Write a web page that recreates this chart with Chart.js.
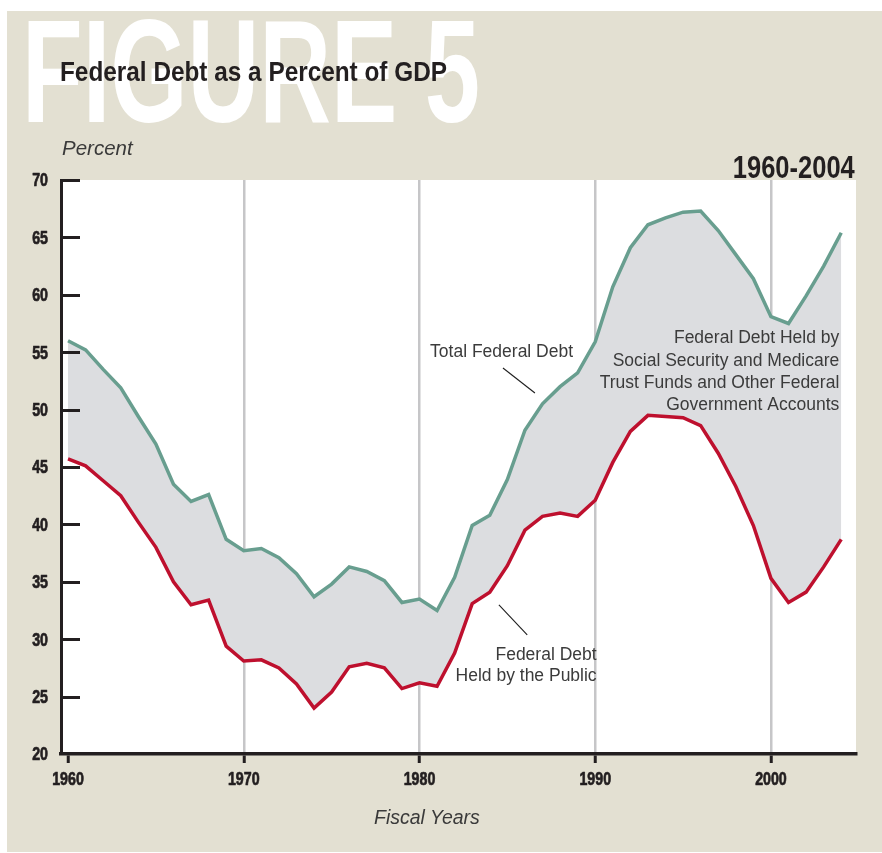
<!DOCTYPE html>
<html>
<head>
<meta charset="utf-8">
<script src="https://cdn.jsdelivr.net/npm/chart.js@4.4.1/dist/chart.umd.min.js"></script>
<style>
  html, body { margin: 0; padding: 0; background: #ffffff; }
  #wrap { position: relative; width: 882px; height: 853px; overflow: hidden; }
  #chart { position: absolute; left: 0; top: 0; }
  .t { position: absolute; white-space: nowrap; line-height: 1; }
  .cond { font-family: 'Liberation Sans', Arial, sans-serif; font-weight: bold; }
  .light { font-family: 'Liberation Sans', Arial, sans-serif; font-style: italic; color: #3a3a3a; }
  #fig { left: 22px; top: -0.6px; font-size: 146px; color: #ffffff; transform-origin: left top; }
  #title { left: 60px; top: 58.4px; font-size: 27.9px; color: #231f20; transform-origin: left top; }
  #span { right: 27px; top: 153px; font-size: 30.7px; color: #231f20; transform-origin: right top; }
  #unit { left: 62px; top: 137.6px; font-size: 20.5px; }
  #xname { left: 374px; top: 807.5px; font-size: 19.5px; }
</style>
</head>
<body>
<div id="wrap">
  <canvas id="chart" width="882" height="853"></canvas>
  <div id="fig" class="t cond">FIGURE 5</div>
  <div id="title" class="t cond">Federal Debt as a Percent of GDP</div>
  <div id="span" class="t cond">1960-2004</div>
  <div id="unit" class="t light">Percent</div>
  <div id="xname" class="t light">Fiscal Years</div>
</div>
<script>
// Fiscal years and debt ratios (percent of GDP)
const years = [
  1960, 1961, 1962, 1963, 1964, 1965, 1966, 1967, 1968, 1969,
  1970, 1971, 1972, 1973, 1974, 1975, 1976, 1977, 1978, 1979,
  1980, 1981, 1982, 1983, 1984, 1985, 1986, 1987, 1988, 1989,
  1990, 1991, 1992, 1993, 1994, 1995, 1996, 1997, 1998, 1999,
  2000, 2001, 2002, 2003, 2004
];
const totalFederalDebt = [
  56.0, 55.2, 53.5, 51.9, 49.4, 47.0, 43.5, 42.0, 42.6, 38.7,
  37.7, 37.9, 37.1, 35.7, 33.7, 34.8, 36.3, 35.9, 35.1, 33.2,
  33.5, 32.5, 35.4, 39.9, 40.8, 43.9, 48.2, 50.5, 52.0, 53.2,
  55.9, 60.7, 64.1, 66.1, 66.7, 67.2, 67.3, 65.6, 63.5, 61.4,
  58.1, 57.5, 59.9, 62.5, 65.4
];
const heldByPublic = [
  45.7, 45.1, 43.8, 42.5, 40.2, 38.0, 35.0, 33.0, 33.4, 29.4,
  28.1, 28.2, 27.5, 26.1, 24.0, 25.4, 27.6, 27.9, 27.5, 25.7,
  26.2, 25.9, 28.8, 33.1, 34.1, 36.4, 39.5, 40.7, 41.0, 40.7,
  42.1, 45.4, 48.1, 49.5, 49.4, 49.3, 48.6, 46.2, 43.3, 39.9,
  35.3, 33.2, 34.1, 36.3, 38.7
];
const yearTicks = [1960, 1970, 1980, 1990, 2000];
const percentMin = 20;
const percentMax = 70;
const percentStep = 5;
const yearMin = 1959.6;
const yearMax = 2004.84;

const DARK = '#231f20';
const GREEN = '#689e8f';
const RED = '#be102e';
const BAND = '#dcdde0';
const GRID = '#c6c6c8';
const BEIGE = '#e3e0d2';
const NOTE_FONT = '17.5px "Liberation Sans", Arial, sans-serif';
const NOTE_COLOR = '#3b3b3b';
const LABEL_FONT = 'bold 18px "Liberation Sans", Arial, sans-serif';
const LABEL_SQUEEZE = 0.79;
const LABEL_CAP = 0.716 * 18;

// Text callouts, anchored in data units (year, percent)
const callouts = [
  { lines: ['Total Federal Debt'], year: 1988.74, value: 54.56, gap: 0 },
  { lines: ['Federal Debt Held by', 'Social Security and Medicare', 'Trust Funds and Other Federal', 'Government Accounts'], year: 2003.89, value: 55.78, gap: 22.3 },
  { lines: ['Federal Debt', 'Held by the Public'], year: 1990.08, value: 28.19, gap: 21 }
];
const leaders = [
  { from: [1984.75, 53.62], to: [1986.57, 51.45] },
  { from: [1984.52, 32.98], to: [1986.13, 30.37] }
];

const points = (vals) => years.map((yr, i) => ({ x: yr, y: vals[i] }));

const panelPlugin = {
  id: 'panel',
  beforeDraw(chart) {
    const { ctx, chartArea: a, width, height } = chart;
    ctx.save();
    ctx.fillStyle = '#ffffff';
    ctx.fillRect(0, 0, width, height);
    ctx.fillStyle = BEIGE;
    ctx.fillRect(7, 11, width - 7, height - 12);
    ctx.fillStyle = '#ffffff';
    ctx.fillRect(a.left, a.top, a.right - a.left, a.bottom - a.top);
    ctx.restore();
  }
};

// Condensed heavy tick numbers plus the short inside ticks of the value axis
function squeezedText(ctx, text, x, y, align) {
  ctx.save();
  ctx.translate(x, y);
  ctx.scale(LABEL_SQUEEZE, 1);
  ctx.textAlign = align;
  ctx.textBaseline = 'alphabetic';
  ctx.fillText(text, 0, 0);
  ctx.strokeText(text, 0, 0);
  ctx.restore();
}

const axisLabelPlugin = {
  id: 'axisLabels',
  afterDraw(chart) {
    const { ctx, chartArea: a } = chart;
    const xs = chart.scales.x, ys = chart.scales.y;
    ctx.save();
    ctx.strokeStyle = DARK;
    ctx.lineWidth = 3;
    ys.ticks.forEach(t => {
      if (t.value === percentMin) return;
      const py = Math.round(ys.getPixelForValue(t.value)) + 0.5;
      ctx.beginPath();
      ctx.moveTo(a.left, py);
      ctx.lineTo(a.left + 19, py);
      ctx.stroke();
    });
    ctx.font = LABEL_FONT;
    ctx.fillStyle = DARK;
    ctx.lineWidth = 0.7;
    ctx.lineJoin = 'round';
    ys.ticks.forEach(t => {
      const py = ys.getPixelForValue(t.value);
      squeezedText(ctx, String(t.value), a.left - 13, py + LABEL_CAP / 2, 'right');
    });
    xs.ticks.forEach(t => {
      const px = xs.getPixelForValue(t.value);
      squeezedText(ctx, String(t.value), px, a.bottom + 31, 'center');
    });
    ctx.restore();
  }
};

const calloutPlugin = {
  id: 'callouts',
  afterDatasetsDraw(chart) {
    const { ctx } = chart;
    const xs = chart.scales.x, ys = chart.scales.y;
    ctx.save();
    ctx.font = NOTE_FONT;
    ctx.fillStyle = NOTE_COLOR;
    ctx.textAlign = 'right';
    ctx.textBaseline = 'alphabetic';
    callouts.forEach(c => {
      const px = xs.getPixelForValue(c.year);
      const py = ys.getPixelForValue(c.value);
      c.lines.forEach((ln, i) => ctx.fillText(ln, px, py + i * c.gap));
    });
    ctx.strokeStyle = '#1e1e1e';
    ctx.lineWidth = 1.1;
    leaders.forEach(l => {
      ctx.beginPath();
      ctx.moveTo(xs.getPixelForValue(l.from[0]), ys.getPixelForValue(l.from[1]));
      ctx.lineTo(xs.getPixelForValue(l.to[0]), ys.getPixelForValue(l.to[1]));
      ctx.stroke();
    });
    ctx.restore();
  }
};

new Chart(document.getElementById('chart'), {
  type: 'line',
  data: {
    datasets: [
      {
        label: 'Federal Debt Held by the Public',
        data: points(heldByPublic),
        borderColor: RED,
        borderWidth: 3.5,
        pointRadius: 0,
        tension: 0,
        fill: false
      },
      {
        label: 'Total Federal Debt',
        data: points(totalFederalDebt),
        borderColor: GREEN,
        borderWidth: 3.5,
        pointRadius: 0,
        tension: 0,
        fill: '-1',
        backgroundColor: BAND
      }
    ]
  },
  options: {
    responsive: false,
    animation: false,
    events: [],
    layout: { padding: { top: 180, right: 26, left: 0, bottom: 0 } },
    plugins: { legend: { display: false }, tooltip: { enabled: false }, title: { display: false } },
    scales: {
      x: {
        type: 'linear',
        min: yearMin,
        max: yearMax,
        afterBuildTicks: s => { s.ticks = yearTicks.map(v => ({ value: v })); },
        afterFit: s => { s.height = 99; },
        grid: {
          color: c => (c.tick && c.tick.value === yearTicks[0]) ? 'rgba(0,0,0,0)' : GRID,
          lineWidth: 2.5,
          drawTicks: true,
          tickLength: 9,
          tickColor: DARK,
          tickWidth: 3
        },
        border: { display: true, color: DARK, width: 3.5 },
        ticks: { display: false, autoSkip: false, maxRotation: 0, callback: v => String(v) }
      },
      y: {
        min: percentMin,
        max: percentMax,
        afterFit: s => { s.width = 61; },
        grid: { display: false, drawTicks: false },
        border: { display: true, color: DARK, width: 3 },
        ticks: { display: false, stepSize: percentStep }
      }
    }
  },
  plugins: [panelPlugin, axisLabelPlugin, calloutPlugin]
});

// Condensed headline type: squeeze each line to its set width
function fitWidth(id, target) {
  const el = document.getElementById(id);
  el.style.transform = 'none';
  const w = el.getBoundingClientRect().width;
  el.style.transform = 'scaleX(' + (target / w) + ')';
}
function fitAll() {
  fitWidth('fig', 458);
  fitWidth('title', 387);
  fitWidth('span', 122);
}
fitAll();
if (document.fonts && document.fonts.ready) document.fonts.ready.then(fitAll);
</script>
</body>
</html>
